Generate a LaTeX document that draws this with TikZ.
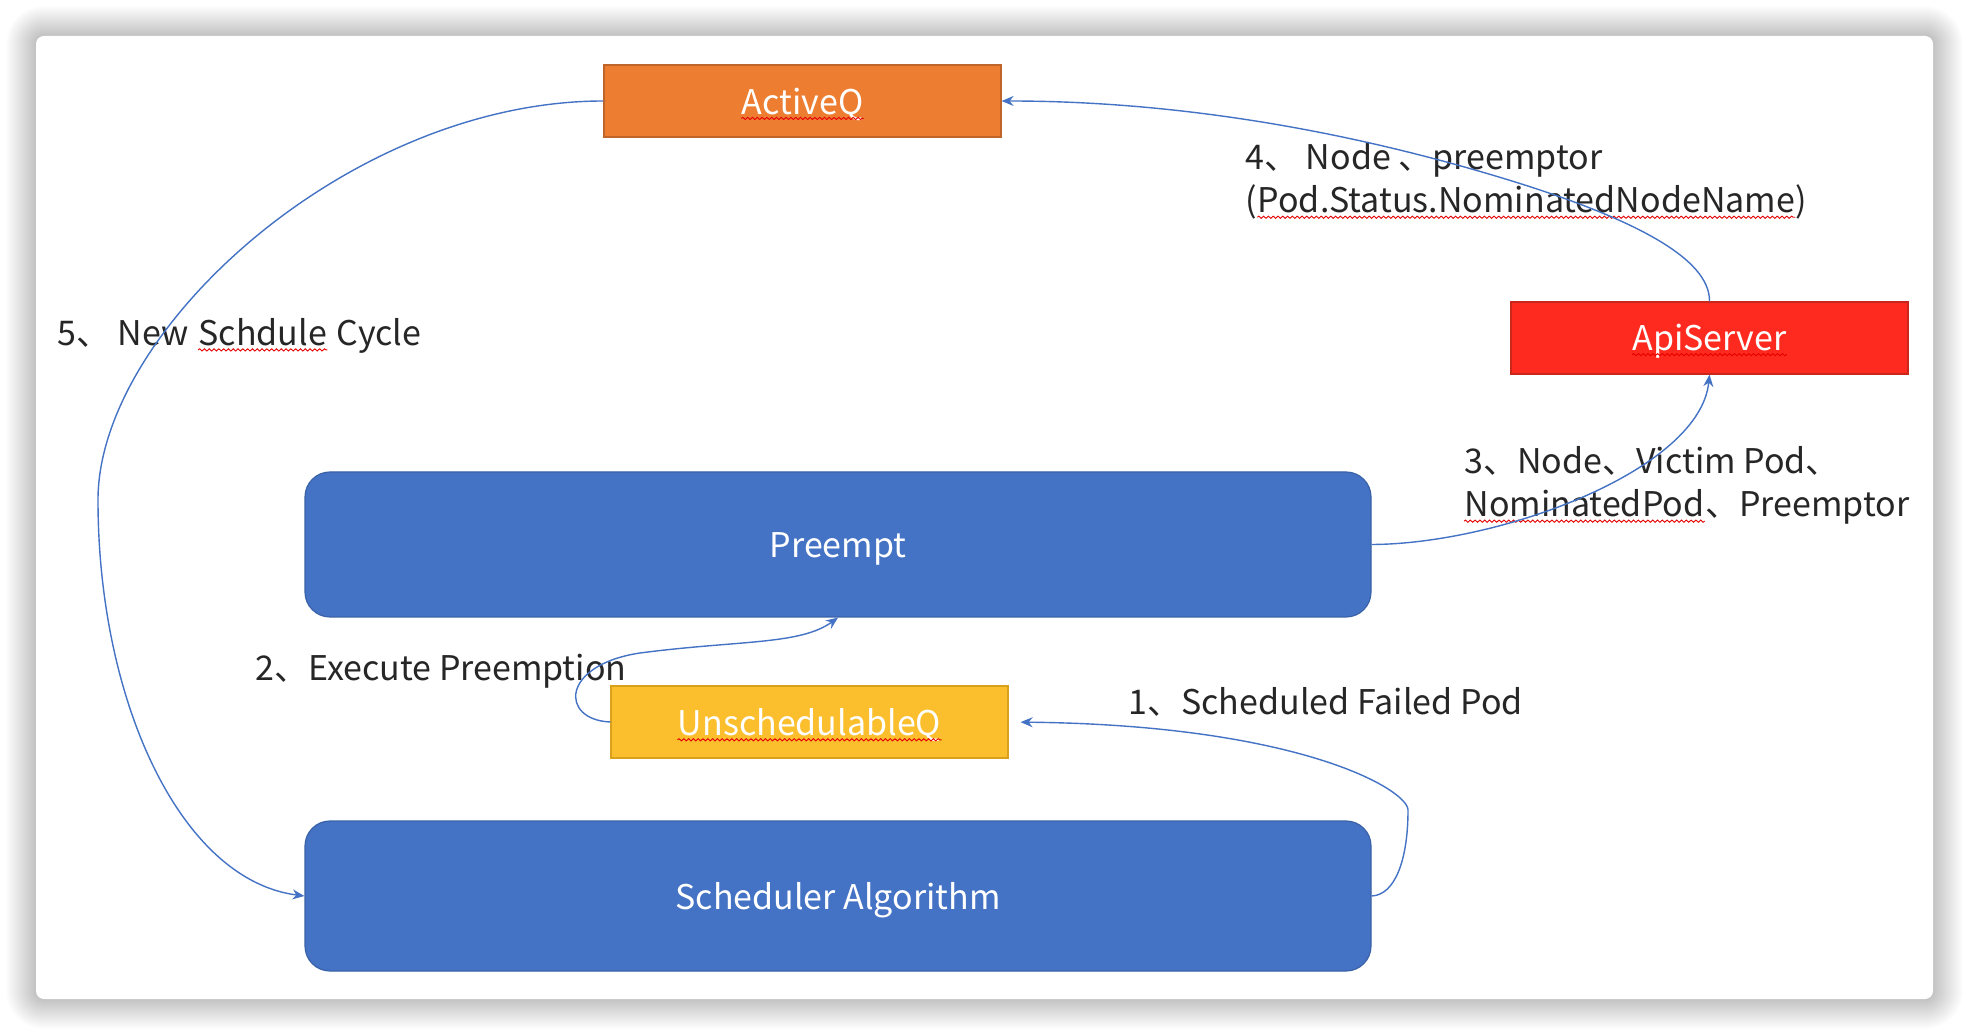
\documentclass[tikz,border=0pt]{standalone}
\usepackage{fontspec}
\setmainfont{Noto Sans CJK SC}
\usepackage{xcolor}
\usetikzlibrary{arrows.meta, positioning, calc, decorations.pathmorphing}

\definecolor{boxblue}{HTML}{4472C4}
\definecolor{boxblueline}{HTML}{3A62A8}
\definecolor{qorange}{HTML}{ED7D31}
\definecolor{qorangeline}{HTML}{C0652A}
\definecolor{qyellow}{HTML}{FBBF2D}
\definecolor{qyellowline}{HTML}{D9A01C}
\definecolor{apired}{HTML}{FF2A1F}
\definecolor{apiredline}{HTML}{C8281C}
\definecolor{flowline}{HTML}{4472C4}
\definecolor{labeltext}{HTML}{262626}

\tikzset{
  stage/.style={draw=boxblueline, fill=boxblue, rounded corners=12.5pt,
    minimum width=533pt, line width=0.6pt},
  queue/.style={draw=#1line, fill=#1, minimum width=198.5pt, minimum height=36pt, line width=0.6pt},
  flow/.style={draw=flowline, line width=0.7pt, -{Stealth[length=6pt,width=5pt]}},
  steplabel/.style={text=labeltext, font=\fontsize{17}{21.6}\selectfont, inner sep=0pt},
  boxword/.style={text=white, font=\fontsize{17}{21.6}\selectfont, inner sep=0pt},
  % red spell-check wave under a word
  spell/.style={append after command={([yshift=-2.2pt]\tikzlastnode.base west)
    edge[draw=red!90!black, line width=0.45pt, decorate,
      decoration={snake, amplitude=0.55pt, segment length=2.4pt}]
    ([yshift=-2.2pt]\tikzlastnode.base east)}}
}

\begin{document}
\begin{tikzpicture}[x=0.5pt, y=-0.5pt]
  \useasboundingbox (0,0) rectangle (1970,1036);
  \fill[white] (0,0) rectangle (1970,1036);

  % Card with soft shadow
  \foreach \s in {1,...,30} {
    \pgfmathsetmacro\rad{4+0.5*\s}
    \fill[black, opacity=0.009, rounded corners=\rad pt] ({36-\s},{36-\s}) rectangle ({1933+\s},{999+\s});
  }
  \fill[white, rounded corners=4pt] (36,36) rectangle (1933,999);

  % Queues and stages
  \node[queue=qorange] (active) at (802.5,101) {};
  \node[boxword, spell] (activetext) at ([yshift=-1.5pt]active.center) {ActiveQ};
  \node[queue=apired] (api) at (1709.5,338) {};
  \node[boxword, spell] (apitext) at ([yshift=-1.5pt]api.center) {ApiServer};
  \node[stage, minimum height=72.5pt] (preempt) at (838,544.5) {};
  \node[boxword] (preempttext) at ([yshift=-2pt]preempt.center) {Preempt};
  \node[queue=qyellow] (uq) at (809.5,722) {};
  \node[boxword, spell] (uqtext) at ([yshift=-1.5pt]uq.center) {UnschedulableQ};
  \node[stage, minimum height=75pt] (sched) at (838,896) {};
  \node[boxword] (schedtext) at ([yshift=-2pt]sched.center) {Scheduler Algorithm};

  % Step labels
  \node[steplabel, anchor=west] (lab1) at (1128,702) {1、Scheduled Failed Pod};
  \node[steplabel, anchor=west] (lab2) at (255,671) {2、Execute Preemption};
  \node[steplabel, anchor=west] (lab3) at (1464,461) {3、Node、Victim Pod、};
  \node[steplabel, spell, anchor=base west] (lab3b) at ([yshift=-21.6pt]lab3.base west) {NominatedPod};
  \node[steplabel, anchor=base west] (lab3c) at (lab3b.base east) {、Preemptor};
  \node[steplabel, anchor=west] (lab4) at (1245,160) {4、 Node 、preemptor};
  \node[steplabel, anchor=base west] (lab4a) at ([yshift=-21.6pt]lab4.base west) {(};
  \node[steplabel, spell, anchor=base west] (lab4b) at (lab4a.base east) {Pod.Status.NominatedNodeName};
  \node[steplabel, anchor=base west] (lab4c) at (lab4b.base east) {)};
  \node[steplabel, anchor=west] (lab5) at (57,334) {5、 New};
  \node[steplabel, spell, anchor=base west] (lab5b) at ([xshift=4.5pt]lab5.base east) {Schdule};
  \node[steplabel, anchor=base west] (lab5c) at ([xshift=4.5pt]lab5b.base east) {Cycle};

  % Flow
  \draw[flow, shorten >=6pt] (sched.east) .. controls (1395,895) and (1408,860) .. (1408,810)
    .. controls (1408,790) and (1300,725) .. (uq.east);
  \draw[flow] (uq.west) .. controls (560,720) and (560,665) .. (640,653)
    .. controls (740,640) and (800,645) .. (preempt.south);
  \draw[flow] (preempt.east) .. controls (1500,544) and (1700,470) .. (api.south);
  \draw[flow] (api.north) .. controls (1710,260) and (1640,215) .. (1450,163)
    .. controls (1300,122) and (1150,101) .. (active.east);
  \draw[flow] (active.west) .. controls (350,101) and (98,330) .. (98,500)
    .. controls (98,700) and (180,880) .. (sched.west);
\end{tikzpicture}
\end{document}
